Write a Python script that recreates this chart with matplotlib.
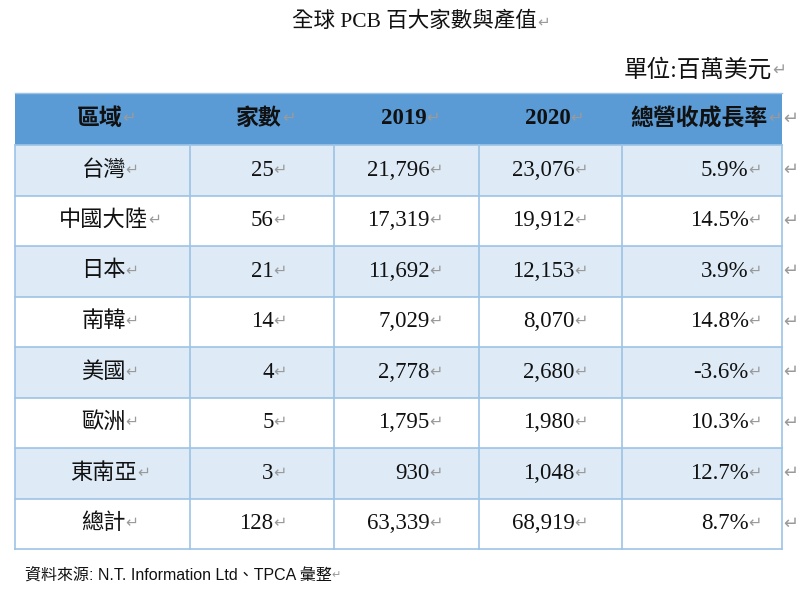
import matplotlib.pyplot as plt
from matplotlib import font_manager
from matplotlib.patches import Rectangle

# table content
title = "全球 PCB 百大家數與產值"
unit_note = "單位:百萬美元"
source_note = "資料來源: N.T. Information Ltd、TPCA 彙整"
headers = ["區域", "家數", "2019", "2020", "總營收成長率"]
regions = ["台灣", "中國大陸", "日本", "南韓", "美國", "歐洲", "東南亞", "總計"]
counts = ["25", "56", "21", "14", "4", "5", "3", "128"]
rev_2019 = ["21,796", "17,319", "11,692", "7,029", "2,778", "1,795", "930", "63,339"]
rev_2020 = ["23,076", "19,912", "12,153", "8,070", "2,680", "1,980", "1,048", "68,919"]
growth = ["5.9%", "14.5%", "3.9%", "14.8%", "-3.6%", "10.3%", "12.7%", "8.7%"]

installed = {f.name for f in font_manager.fontManager.ttflist}
SERIF = ["Liberation Serif", "Noto Sans CJK TC"]
SANS = [f for f in ["Liberation Sans Narrow", "Liberation Sans"] if f in installed][:1] + ["Noto Sans CJK TC"]
MARK = "\u21b5"
MARK_COLOR = "#9a9a9a"

col_edges = [15, 190, 334, 479, 622, 782]
head_top, head_bot = 93, 145
row_h = 50.5

fig = plt.figure(figsize=(8, 6), dpi=100)
ax = fig.add_axes([0, 0, 1, 1])
ax.set_xlim(0, 800)
ax.set_ylim(600, 0)
ax.axis("off")
renderer = fig.canvas.get_renderer()


def width_of(t):
    return t.get_window_extent(renderer).width


def cell_text(x, y, s, ha="center", size=16, weight="normal", family=SERIF, mark=True):
    # text followed by a grey paragraph mark, like the Word source
    t = ax.text(0, y, s, fontsize=size, fontweight=weight, family=family,
                va="center", ha="left", color="#111111")
    m = ax.text(0, y, MARK, fontsize=size * 0.7, family=["DejaVu Sans"],
                va="center", ha="left", color=MARK_COLOR) if mark else None
    w = width_of(t)
    mw = width_of(m) if m is not None else 0
    if ha == "center":
        left = x - (w + mw) / 2
    elif ha == "right":
        left = x - w - mw
    else:
        left = x
    t.set_x(left)
    if m is not None:
        m.set_x(left + w)


# header band
ax.add_patch(Rectangle((col_edges[0], head_top), col_edges[-1] - col_edges[0],
                       head_bot - head_top, facecolor="#5b9bd5", edgecolor="none"))
# body rows
for i in range(len(regions)):
    y0 = head_bot + i * row_h
    fc = "#deebf7" if i % 2 == 0 else "white"
    ax.add_patch(Rectangle((col_edges[0], y0), col_edges[-1] - col_edges[0], row_h,
                           facecolor=fc, edgecolor="none"))

bottom = head_bot + len(regions) * row_h
line_c = "#9dc3e6"
for i in range(len(regions) + 1):
    y = head_bot + i * row_h
    ax.plot([col_edges[0], col_edges[-1]], [y, y], color=line_c, lw=1.2)
for x in col_edges:
    ax.plot([x, x], [head_bot, bottom], color=line_c, lw=1.2)
ax.plot([col_edges[0], col_edges[-1]], [head_top, head_top], color="#9dc3e6", lw=1)

# header text
head_y = (head_top + head_bot) / 2
for j, h in enumerate(headers):
    cx = (col_edges[j] + col_edges[j + 1]) / 2
    cell_text(cx + 4, head_y, h, size=16.5, weight="bold")
ax.text(791, head_y, MARK, fontsize=13, family=["DejaVu Sans"], color=MARK_COLOR,
        va="center", ha="center")

# body text
for i in range(len(regions)):
    y = head_bot + (i + 0.5) * row_h
    cell_text(110, y, regions[i], ha="center", size=16)
    cell_text(287, y, counts[i], ha="right", size=16.5)
    cell_text(443, y, rev_2019[i], ha="right", size=16.5)
    cell_text(588, y, rev_2020[i], ha="right", size=16.5)
    cell_text(762, y, growth[i], ha="right", size=16.5)
    ax.text(791, y, MARK, fontsize=13, family=["DejaVu Sans"], color=MARK_COLOR,
            va="center", ha="center")

# title, unit and source
cell_text(421, 22, title, ha="center", size=15.5)
cell_text(786, 70, unit_note, ha="right", size=17)
src_size = 13 if SANS[0] == "Liberation Sans Narrow" else 11.5
cell_text(25, 575, source_note, ha="left", size=src_size, family=SANS)

fig.savefig("out.png", dpi=100)
